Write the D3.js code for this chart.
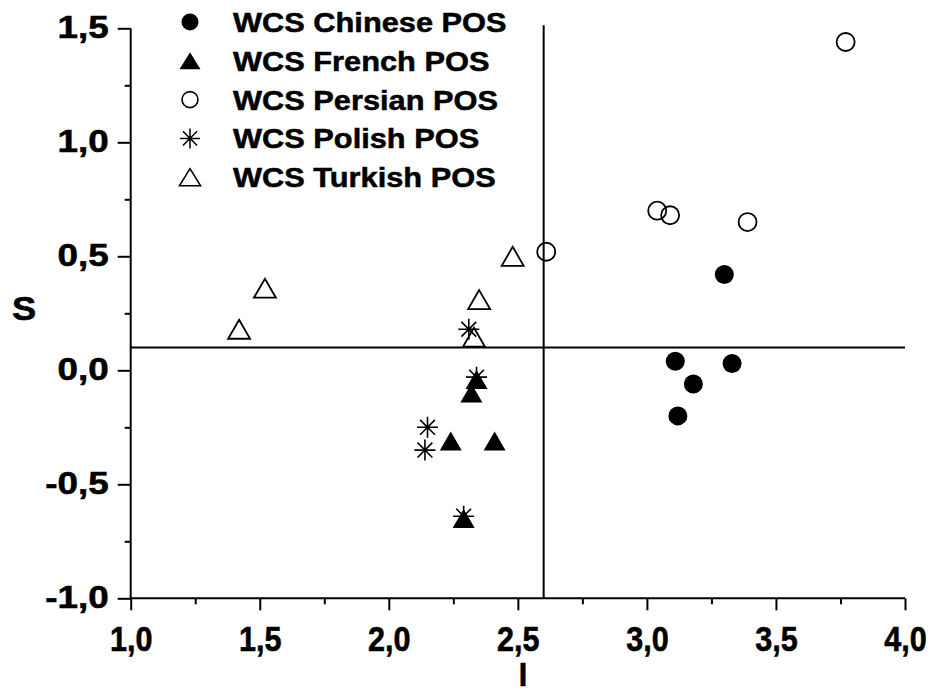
<!DOCTYPE html>
<html><head><meta charset="utf-8">
<script src="https://cdn.jsdelivr.net/npm/d3@7"></script>
<style>body{margin:0;background:#fff}svg{display:block}</style>
</head><body>
<svg id="c" width="931" height="696"></svg>
<script>
const seriesNames = ["WCS Chinese POS","WCS French POS","WCS Persian POS","WCS Polish POS","WCS Turkish POS"];
const chineseI = [3.30, 3.11, 3.33, 3.18, 3.12];
const chineseS = [0.42, 0.04, 0.03, -0.06, -0.20];
const frenchI = [2.34, 2.32, 2.24, 2.41, 2.29];
const frenchS = [-0.04, -0.10, -0.31, -0.31, -0.65];
const persianI = [3.77, 3.04, 3.09, 3.39, 2.61];
const persianS = [1.44, 0.70, 0.68, 0.65, 0.52];
const polishI = [2.31, 2.34, 2.15, 2.14, 2.29];
const polishS = [0.18, -0.03, -0.25, -0.35, -0.64];
const turkishI = [2.48, 2.35, 2.33, 1.52, 1.42];
const turkishS = [0.50, 0.31, 0.145, 0.36, 0.18];
const xTicks = [1.0, 1.5, 2.0, 2.5, 3.0, 3.5, 4.0];
const yTicks = [-1.0, -0.5, 0.0, 0.5, 1.0, 1.5];
const xMinor = [1.25, 1.75, 2.25, 2.75, 3.25, 3.75];
const yMinor = [-0.75, -0.25, 0.25, 0.75, 1.25];
const refI = 2.6, refS = 0.1;

const svg = d3.select("#c");
const x = d3.scaleLinear().domain([1, 4]).range([130.7, 905]);
const y = d3.scaleLinear().domain([-1, 1.5]).range([598.3, 28.3]);
const fmt = d => d3.format(".1f")(d).replace(".", ",").replace("−", "-");
const FONT = "'Liberation Sans', Arial, sans-serif";

// reference lines
svg.append("line").attr("x1", x(refI)).attr("x2", x(refI)).attr("y1", y(1.5) - 3).attr("y2", y(-1))
  .attr("stroke", "#000").attr("stroke-width", 2);
svg.append("line").attr("x1", x(1)).attr("x2", x(4)).attr("y1", y(refS)).attr("y2", y(refS))
  .attr("stroke", "#000").attr("stroke-width", 2);

// axes
const gx = svg.append("g").attr("transform", `translate(0,${y(-1)})`)
  .call(d3.axisBottom(x).tickValues(xTicks).tickSize(12).tickFormat(fmt));
const gxm = svg.append("g").attr("transform", `translate(0,${y(-1)})`)
  .call(d3.axisBottom(x).tickValues(xMinor).tickSize(6).tickFormat(""));
const gy = svg.append("g").attr("transform", `translate(${x(1)},0)`)
  .call(d3.axisLeft(y).tickValues(yTicks).tickSize(13).tickFormat(fmt));
const gym = svg.append("g").attr("transform", `translate(${x(1)},0)`)
  .call(d3.axisLeft(y).tickValues(yMinor).tickSize(6).tickFormat(""));
gxm.select(".domain").remove();
gym.select(".domain").remove();
gx.select(".domain").attr("d", `M${x(1)},0H${x(4)}`).attr("stroke", "#000").attr("stroke-width", 2);
gy.select(".domain").attr("d", `M0,${y(-1)}V${y(1.5)}`).attr("stroke", "#000").attr("stroke-width", 2);
svg.selectAll(".tick line").attr("stroke", "#000").attr("stroke-width", 2);

gx.selectAll(".tick text").attr("font-family", FONT).attr("font-weight", "bold").attr("font-size", 36)
  .attr("fill", "#000").attr("stroke", "#000").attr("stroke-width", 0.6).attr("y", 0).attr("dy", 0)
  .attr("transform", "translate(0,53) scale(0.85,1)");
gy.selectAll(".tick text").attr("font-family", FONT).attr("font-weight", "bold").attr("font-size", 32)
  .attr("fill", "#000").attr("stroke", "#000").attr("stroke-width", 0.6).attr("x", 0).attr("dy", 0)
  .attr("transform", "translate(-22,9) scale(1.15,1)");

// axis titles
svg.append("text").attr("x", 0).attr("y", 0).attr("transform", "translate(24,320) scale(1.1,1)")
  .attr("text-anchor", "middle").attr("font-family", FONT).attr("font-weight", "bold").attr("font-size", 33)
  .attr("stroke", "#000").attr("stroke-width", 0.6).text("S");
svg.append("text").attr("x", 0).attr("y", 0).attr("transform", "translate(523,686) scale(0.9,1)")
  .attr("text-anchor", "middle").attr("font-family", FONT).attr("font-weight", "bold").attr("font-size", 34)
  .attr("stroke", "#000").attr("stroke-width", 0.6).text("I");

// symbols
const triPath = (w, h) => `M0,${-h/2}L${w/2},${h/2}L${-w/2},${h/2}Z`;
const starPath = r => {
  const a = r * Math.SQRT1_2;
  return `M0,${-r}V${r}M${-r},0H${r}M${-a},${-a}L${a},${a}M${a},${-a}L${-a},${a}`;
};
function drawMarker(g, kind) {
  if (kind === 0) g.append("circle").attr("r", 9.5).attr("fill", "#000");
  else if (kind === 1) g.append("path").attr("d", triPath(22, 19)).attr("fill", "#000");
  else if (kind === 2) g.append("circle").attr("r", 9).attr("fill", "none").attr("stroke", "#000").attr("stroke-width", 1.8);
  else if (kind === 3) g.append("path").attr("d", starPath(10.5)).attr("fill", "none").attr("stroke", "#000").attr("stroke-width", 1.6);
  else g.append("path").attr("d", triPath(22, 19)).attr("fill", "none").attr("stroke", "#000").attr("stroke-width", 1.8).attr("stroke-linejoin", "miter");
}
const series = [
  [chineseI, chineseS], [frenchI, frenchS], [persianI, persianS], [polishI, polishS], [turkishI, turkishS]
];
series.forEach(([xs, ys], k) => {
  const pts = xs.map((v, i) => [v, ys[i]]);
  svg.append("g").selectAll("g").data(pts).join("g")
    .attr("transform", d => `translate(${x(d[0])},${y(d[1])})`)
    .each(function(){ drawMarker(d3.select(this), k); });
});

// legend
const leg = svg.append("g");
seriesNames.forEach((name, i) => {
  const cy = 22 + i * 38.8;
  const g = leg.append("g").attr("transform", `translate(190,${cy})`);
  if (i === 0) g.append("circle").attr("r", 8.5).attr("fill", "#000");
  else if (i === 1) g.append("path").attr("d", triPath(21, 17)).attr("fill", "#000");
  else if (i === 2) g.append("circle").attr("r", 8).attr("fill", "none").attr("stroke", "#000").attr("stroke-width", 1.6);
  else if (i === 3) g.append("path").attr("d", starPath(10)).attr("fill", "none").attr("stroke", "#000").attr("stroke-width", 1.5);
  else g.append("path").attr("d", triPath(21, 17)).attr("fill", "none").attr("stroke", "#000").attr("stroke-width", 1.6);
  leg.append("text").attr("x", 0).attr("y", 0)
    .attr("transform", `translate(233,${cy + 10}) scale(1.14,1)`)
    .attr("font-family", FONT).attr("font-weight", "bold").attr("font-size", 27)
    .attr("stroke", "#000").attr("stroke-width", 0.5).text(name);
});
</script>
</body></html>
